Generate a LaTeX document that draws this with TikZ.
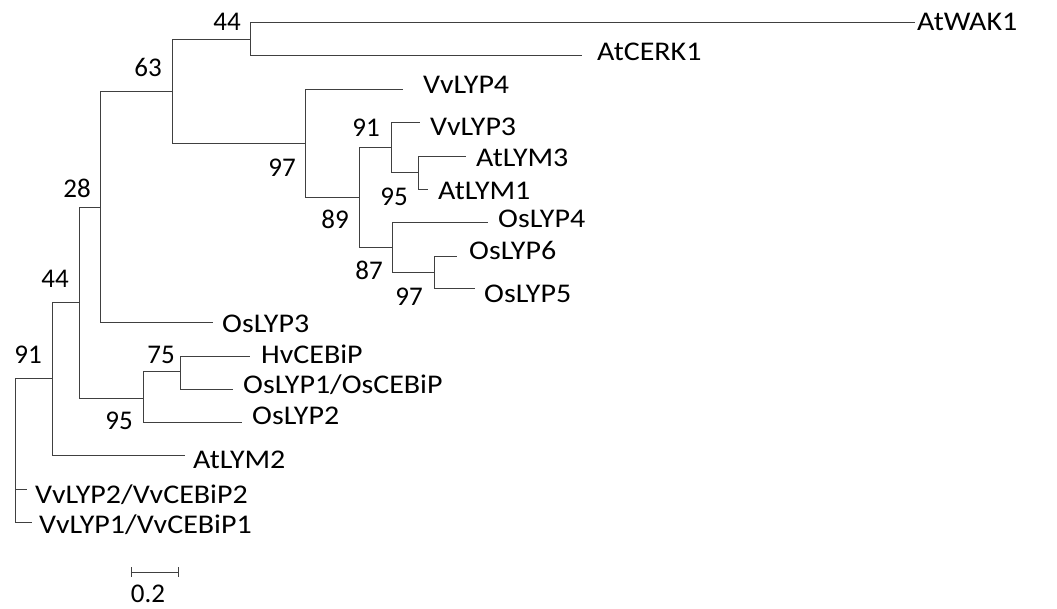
\documentclass[tikz,border=0pt]{standalone}
\usepackage{fontspec}
\setmainfont{Carlito}
\newfontfamily\leaffont{Carlito}[FakeStretch=1.11]
\begin{document}
\begin{tikzpicture}[x=1pt,y=-1pt,
  br/.style={draw=black!75, line width=1pt},
  leaf/.style={anchor=base west, inner sep=0pt, font=\leaffont\fontsize{27}{32}\selectfont},
  lab/.style={anchor=base east, inner sep=0pt, font=\fontsize{27}{32}\selectfont}]
\useasboundingbox (0,0) rectangle (1057,608);
% internal nodes
\coordinate (root) at (15,450);
\coordinate (n91L) at (52,378);
\coordinate (n44L) at (79,302);
\coordinate (n28) at (100,207);
\coordinate (n63) at (172,91);
\coordinate (n44T) at (250,39);
\coordinate (n97U) at (305,143);
\coordinate (n89) at (359,197);
\coordinate (n91U) at (391,147);
\coordinate (n95U) at (418,172);
\coordinate (n87) at (392,247);
\coordinate (n97L) at (434,272);
\coordinate (n95L) at (143,398);
\coordinate (n75) at (180,371);
% tips
\coordinate (tAtWAK1) at (915,22);
\coordinate (tAtCERK1) at (582,55);
\coordinate (tVvLYP4) at (403,89);
\coordinate (tVvLYP3) at (420,122);
\coordinate (tAtLYM3) at (466,156);
\coordinate (tAtLYM1) at (428,189);
\coordinate (tOsLYP4) at (488,222);
\coordinate (tOsLYP6) at (457,256);
\coordinate (tOsLYP5) at (475,288);
\coordinate (tOsLYP3) at (213,322);
\coordinate (tHvCEBiP) at (250,356);
\coordinate (tOsLYP1) at (233,389);
\coordinate (tOsLYP2) at (242,422);
\coordinate (tAtLYM2) at (185,455);
\coordinate (tVvLYP2) at (27,489);
\coordinate (tVvLYP1) at (32,522);
% branches
\draw[br] (root) |- (n91L);
\draw[br] (root) |- (tVvLYP2);
\draw[br] (root) |- (tVvLYP1);
\draw[br] (n91L) |- (n44L);
\draw[br] (n91L) |- (tAtLYM2);
\draw[br] (n44L) |- (n28);
\draw[br] (n44L) |- (n95L);
\draw[br] (n28) |- (n63);
\draw[br] (n28) |- (tOsLYP3);
\draw[br] (n63) |- (n44T);
\draw[br] (n63) |- (n97U);
\draw[br] (n44T) |- (tAtWAK1);
\draw[br] (n44T) |- (tAtCERK1);
\draw[br] (n97U) |- (tVvLYP4);
\draw[br] (n97U) |- (n89);
\draw[br] (n89) |- (n91U);
\draw[br] (n89) |- (n87);
\draw[br] (n91U) |- (tVvLYP3);
\draw[br] (n91U) |- (n95U);
\draw[br] (n95U) |- (tAtLYM3);
\draw[br] (n95U) |- (tAtLYM1);
\draw[br] (n87) |- (tOsLYP4);
\draw[br] (n87) |- (n97L);
\draw[br] (n97L) |- (tOsLYP6);
\draw[br] (n97L) |- (tOsLYP5);
\draw[br] (n95L) |- (n75);
\draw[br] (n95L) |- (tOsLYP2);
\draw[br] (n75) |- (tHvCEBiP);
\draw[br] (n75) |- (tOsLYP1);
% leaf labels
\node[leaf] (AtWAK1) at (917,30) {AtWAK1};
\node[leaf] (AtCERK1) at (597,60) {AtCERK1};
\node[leaf] (VvLYP4) at (423,93) {VvLYP4};
\node[leaf] (VvLYP3) at (430,135) {VvLYP3};
\node[leaf] (AtLYM3) at (476,166) {AtLYM3};
\node[leaf] (AtLYM1) at (438,199) {AtLYM1};
\node[leaf] (OsLYP4) at (498,227) {OsLYP4};
\node[leaf] (OsLYP6) at (469,259) {OsLYP6};
\node[leaf] (OsLYP5) at (484,302) {OsLYP5};
\node[leaf] (OsLYP3) at (222,332) {OsLYP3};
\node[leaf] (HvCEBiP) at (261,363) {HvCEBiP};
\node[leaf] (OsLYP1) at (243,393) {OsLYP1/OsCEBiP};
\node[leaf] (OsLYP2) at (252,424) {OsLYP2};
\node[leaf] (AtLYM2) at (193,468) {AtLYM2};
\node[leaf] (VvLYP2) at (35,503) {VvLYP2/VvCEBiP2};
\node[leaf] (VvLYP1) at (39,533) {VvLYP1/VvCEBiP1};
% support values
\node[lab] (s44T) at (241,30) {44};
\node[lab] (s63) at (162,76) {63};
\node[lab] (s97U) at (296,176) {97};
\node[lab] (s28) at (91,197) {28};
\node[lab] (s44L) at (69,287) {44};
\node[lab] (s91L) at (42,363) {91};
\node[lab] (s75) at (175,363) {75};
\node[lab] (s95L) at (133,429) {95};
\node[lab] (s91U) at (380,136) {91};
\node[lab] (s95U) at (408,205) {95};
\node[lab] (s89) at (349,228) {89};
\node[lab] (s87) at (383,279) {87};
\node[lab] (s97L) at (423,305) {97};
% scale bar
\coordinate (sbL) at (131,572);
\coordinate (sbR) at (178,572);
\draw[br] (sbL) -- (sbR);
\draw[br] ([yshift=5pt]sbL) -- ([yshift=-5pt]sbL);
\draw[br] ([yshift=5pt]sbR) -- ([yshift=-5pt]sbR);
\node[anchor=base, inner sep=0pt, font=\fontsize{27}{32}\selectfont] (sbtxt) at (148,602) {0.2};
\end{tikzpicture}
\end{document}
